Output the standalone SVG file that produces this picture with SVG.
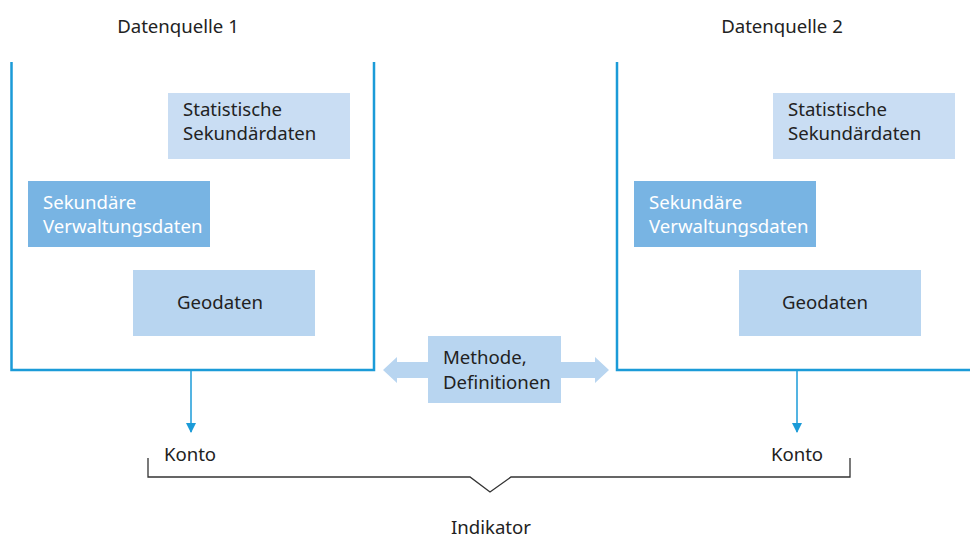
<svg xmlns="http://www.w3.org/2000/svg" width="970" height="540" viewBox="0 0 970 540">
<style>
text{font-family:"Noto Sans","Open Sans",sans-serif;font-size:18.6px;fill:#222}
.w{fill:#fff}
.frame{fill:none;stroke:#1b9bd8;stroke-width:2.5}
.down{stroke:#1b9bd8;stroke-width:1.5;fill:none}
.st{fill:#c9ddf3}.sv{fill:#78b4e3}.geo{fill:#b8d5f0}
</style>
<defs>
<marker id="ah" markerWidth="10" markerHeight="10" refX="9" refY="5" orient="auto" markerUnits="userSpaceOnUse">
<path d="M0,0 L10,5 L0,10 Z" fill="#1b9bd8"/>
</marker>
</defs>
<rect width="970" height="540" fill="#fff"/>
<g id="source1">
<text x="178" y="33" text-anchor="middle">Datenquelle 1</text>
<path class="frame" d="M11.5,62 V370 H374 V62"/>
</g>
<g id="s1-stat"><rect class="st" x="168" y="93" width="182" height="66"/><text x="183" y="116">Statistische</text><text x="183" y="140">Sekundärdaten</text></g>
<g id="s1-verw"><rect class="sv" x="28" y="181" width="182" height="66"/><text class="w" x="43" y="209">Sekundäre</text><text class="w" x="43" y="233">Verwaltungsdaten</text></g>
<g id="s1-geo"><rect class="geo" x="133" y="270" width="182" height="66"/><text x="220" y="309" text-anchor="middle">Geodaten</text></g>
<g id="source2">
<text x="782" y="33" text-anchor="middle">Datenquelle 2</text>
<path class="frame" d="M617,62 V370 H972"/>
</g>
<g id="s2-stat"><rect class="st" x="773" y="93" width="182" height="66"/><text x="788" y="116">Statistische</text><text x="788" y="140">Sekundärdaten</text></g>
<g id="s2-verw"><rect class="sv" x="634" y="181" width="182" height="66"/><text class="w" x="649" y="209">Sekundäre</text><text class="w" x="649" y="233">Verwaltungsdaten</text></g>
<g id="s2-geo"><rect class="geo" x="739" y="270" width="182" height="66"/><text x="825" y="309" text-anchor="middle">Geodaten</text></g>
<g id="methode">
<path class="geo" d="M383,370 L397,357 L397,362 L595,362 L595,357 L609,370 L595,383 L595,378 L397,378 L397,383 Z"/>
<rect class="geo" x="428" y="336" width="133" height="67"/>
<text x="443" y="364">Methode,</text>
<text x="443" y="389">Definitionen</text>
</g>
<g id="konto1"><text x="190" y="461" text-anchor="middle">Konto</text></g>
<g id="konto2"><text x="797" y="461" text-anchor="middle">Konto</text></g>
<g id="indikator"><text x="491" y="534" text-anchor="middle">Indikator</text></g>
<g id="connectors">
<line class="down" x1="191" y1="371" x2="191" y2="432" marker-end="url(#ah)"/>
<line class="down" x1="797" y1="371" x2="797" y2="432" marker-end="url(#ah)"/>
<path d="M148,458 V477 H470 L490,492 L511,477 H850 V458" fill="none" stroke="#333" stroke-width="1.3"/>
</g>
</svg>
